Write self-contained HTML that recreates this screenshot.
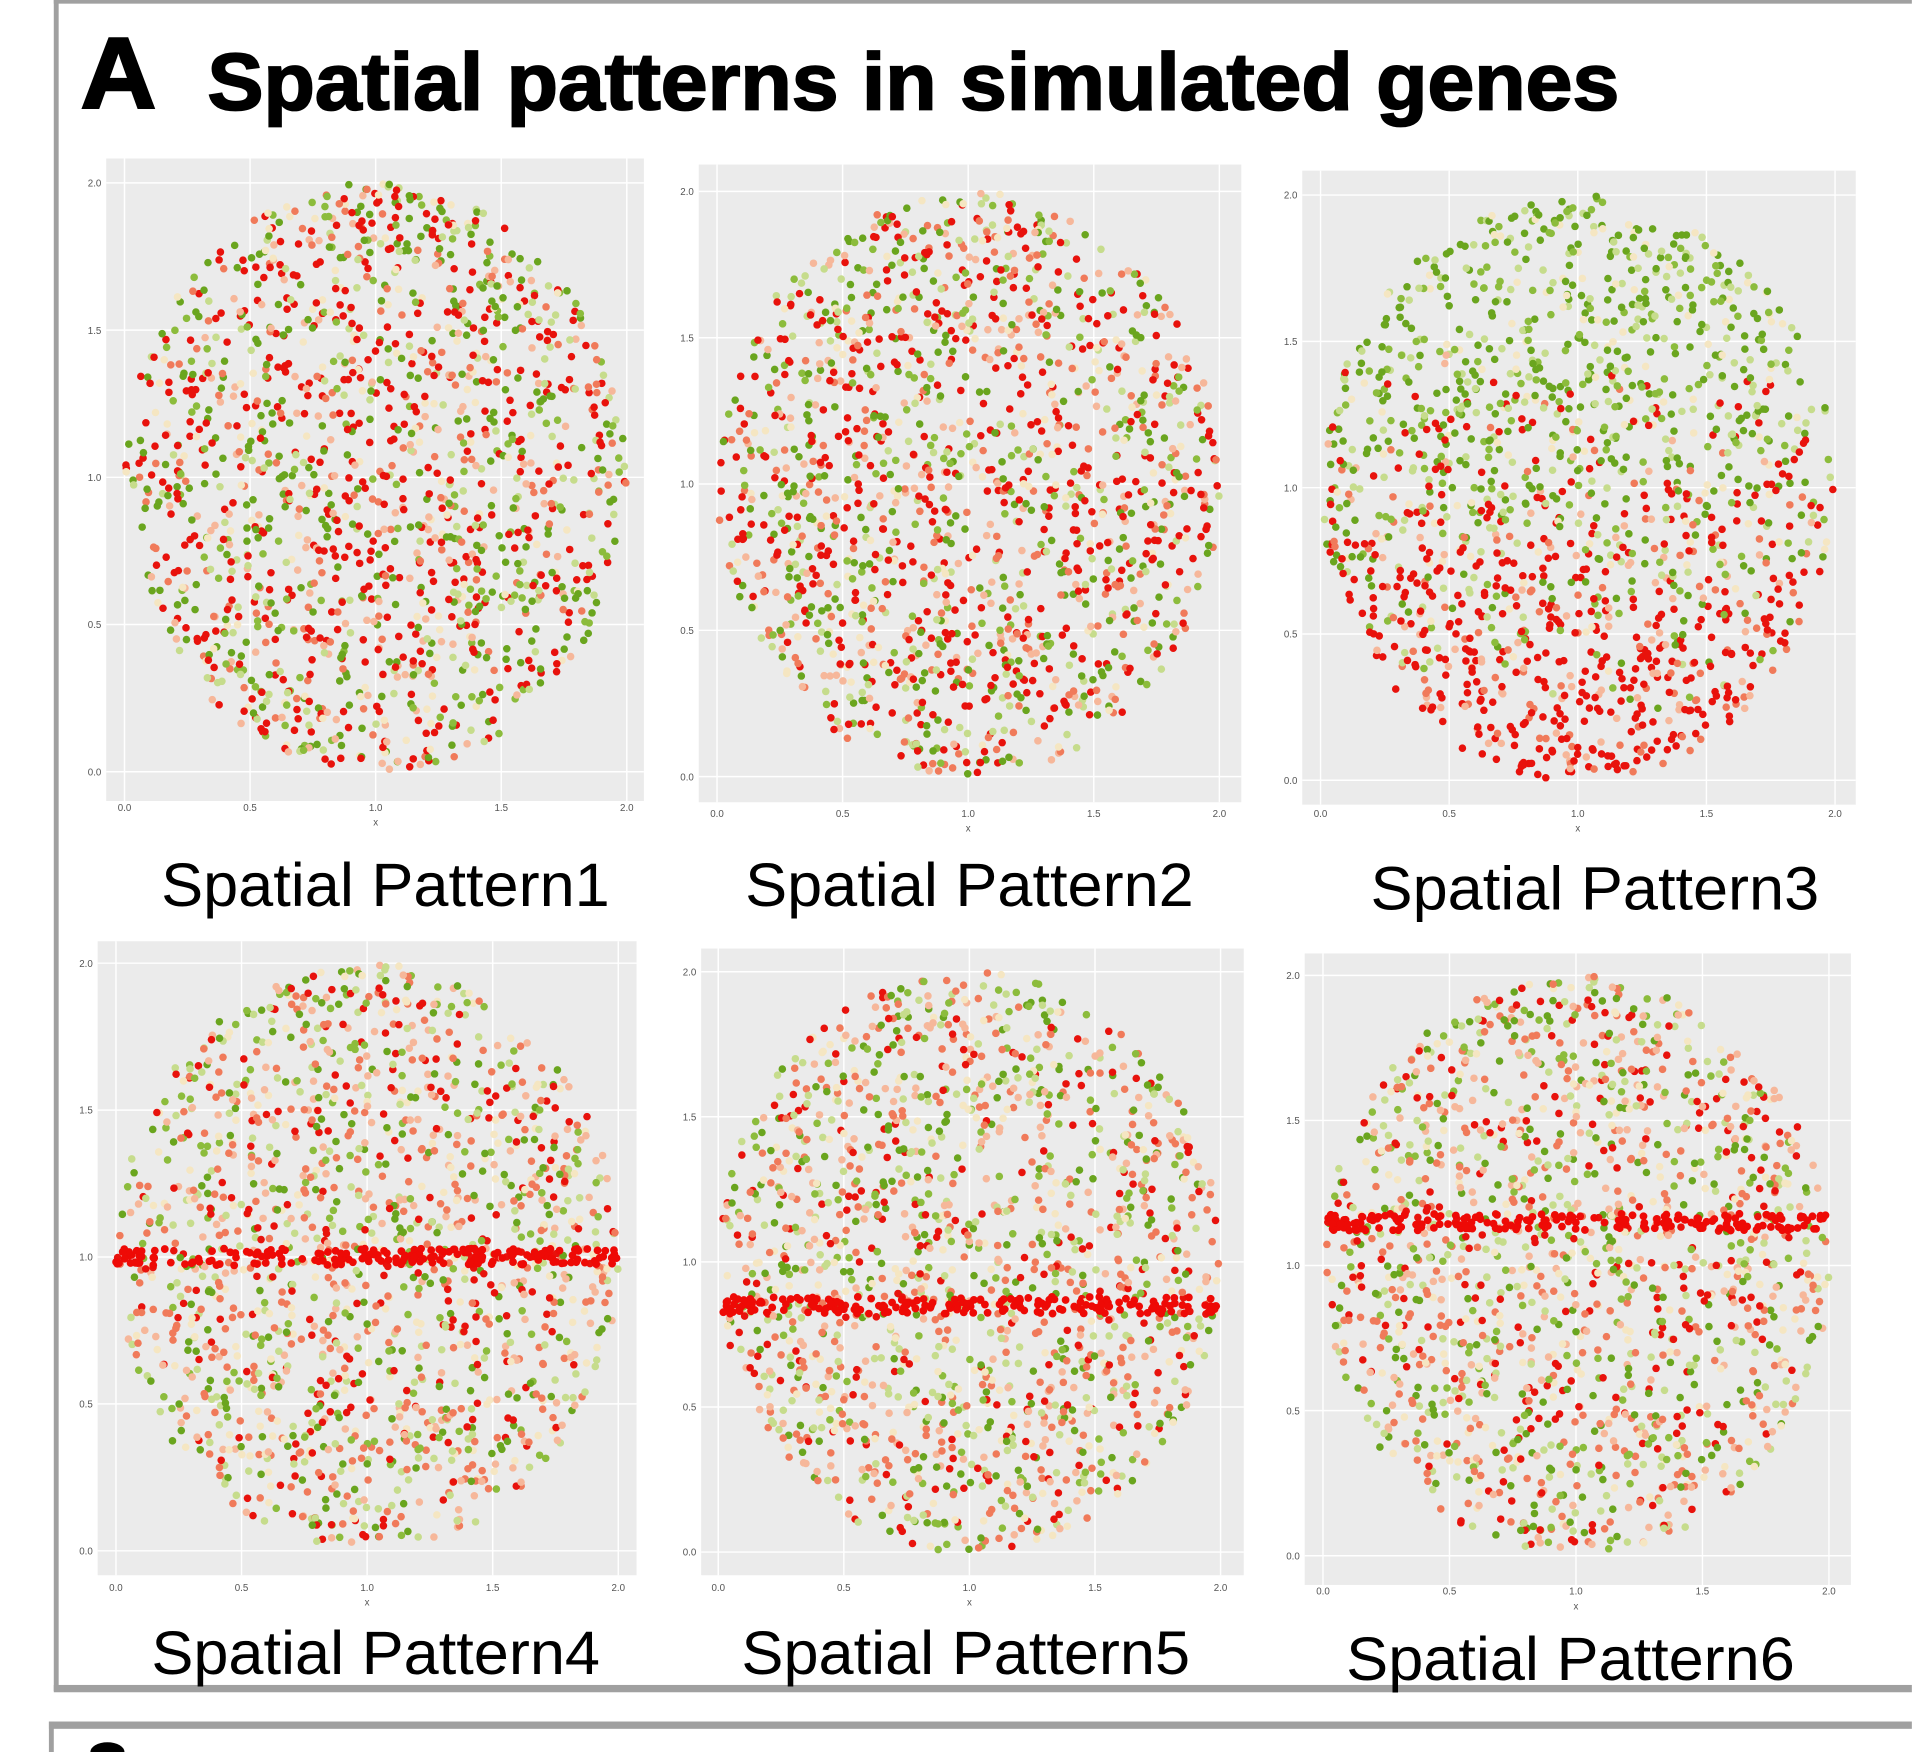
<!DOCTYPE html>
<html><head><meta charset="utf-8"><style>
html,body{margin:0;padding:0;background:#fff;}
svg{display:block}
text{font-family:"Liberation Sans",sans-serif;}
</style></head><body>
<svg id="s" width="1912" height="1752" viewBox="0 0 1568 1437" xmlns="http://www.w3.org/2000/svg">
<rect x="0" y="0" width="1568" height="1437" fill="#fff"/>
<rect x="44" y="0" width="1524" height="3" fill="#a0a0a0"/>
<rect x="44" y="0" width="4" height="1387" fill="#a0a0a0"/>
<rect x="44" y="1382" width="1524" height="6" fill="#a0a0a0"/>
<rect x="40" y="1412" width="1528" height="6" fill="#a0a0a0"/>
<rect x="40" y="1412" width="4" height="25" fill="#a0a0a0"/>
<ellipse cx="88" cy="1437" rx="14" ry="8" fill="#000"/>
<text x="66" y="88" font-size="82" font-weight="bold" fill="#000" stroke="#000" stroke-width="2" textLength="62" lengthAdjust="spacingAndGlyphs">A</text>
<text x="170" y="90" font-size="66" font-weight="bold" fill="#000" stroke="#000" stroke-width="1.5" textLength="1158" lengthAdjust="spacingAndGlyphs">Spatial patterns in simulated genes</text>
<g id="plots"></g>
<text x="316" y="743" font-size="50" text-anchor="middle" textLength="368" lengthAdjust="spacingAndGlyphs">Spatial Pattern1</text>
<text x="795" y="743" font-size="50" text-anchor="middle" textLength="368" lengthAdjust="spacingAndGlyphs">Spatial Pattern2</text>
<text x="1308" y="746" font-size="50" text-anchor="middle" textLength="368" lengthAdjust="spacingAndGlyphs">Spatial Pattern3</text>
<text x="308" y="1373" font-size="50" text-anchor="middle" textLength="368" lengthAdjust="spacingAndGlyphs">Spatial Pattern4</text>
<text x="792" y="1373" font-size="50" text-anchor="middle" textLength="368" lengthAdjust="spacingAndGlyphs">Spatial Pattern5</text>
<text x="1288" y="1378" font-size="50" text-anchor="middle" textLength="368" lengthAdjust="spacingAndGlyphs">Spatial Pattern6</text>
</svg>
<script>
(function(){
var NS="http://www.w3.org/2000/svg",g=document.getElementById("plots");
var seed=12345;function r(){seed=(seed*1103515245+12345)&0x7fffffff;return seed/0x7fffffff;}
function el(n,a,p){var e=document.createElementNS(NS,n);for(var k in a)e.setAttribute(k,a[k]);(p||g).appendChild(e);return e;}
var plots=[
{bx:87,by:130,bw:441,bh:527,y0:633,y2:150,x0:102,x2:514,xl:665,mode:0},
{bx:573,by:135,bw:445,bh:523,y0:637,y2:157,x0:588,x2:1000,xl:670,mode:0},
{bx:1068,by:140,bw:454,bh:520,y0:640,y2:160,x0:1083,x2:1505,xl:670,mode:3},
{bx:80,by:772,bw:442,bh:520,y0:1272,y2:790,x0:95,x2:507,xl:1305,mode:1,band:1.0},
{bx:575,by:778,bw:445,bh:514,y0:1273,y2:797,x0:589,x2:1001,xl:1305,mode:1,band:0.85},
{bx:1070,by:782,bw:448,bh:518,y0:1276,y2:800,x0:1085,x2:1500,xl:1308,mode:1,band:1.15}];
var C=["#e8120c","#f07a5a","#f6b79a","#f5e6c2","#c6dc8c","#8cbc3c","#6aa51e"];
function pick(w){var s=0,q=r();for(var i=0;i<w.length;i++){s+=w[i];if(q<s)return i;}return w.length-1;}
plots.forEach(function(p){
 el("rect",{x:p.bx,y:p.by,width:p.bw,height:p.bh,fill:"#ebebeb"});
 for(var i=0;i<=4;i++){
  var yy=p.y0+(p.y2-p.y0)*i/4, xx=p.x0+(p.x2-p.x0)*i/4;
  el("line",{x1:p.bx,x2:p.bx+p.bw,y1:yy,y2:yy,stroke:"#fff","stroke-width":1.2});
  el("line",{x1:xx,x2:xx,y1:p.by,y2:p.by+p.bh,stroke:"#fff","stroke-width":1.2});
  var t=el("text",{x:p.bx-4,y:yy+3,"font-size":8,"text-anchor":"end",fill:"#555"});t.textContent=(i*0.5).toFixed(1);
  var t2=el("text",{x:xx,y:p.xl,"font-size":8,"text-anchor":"middle",fill:"#555"});t2.textContent=(i*0.5).toFixed(1);
 }
 var tx=el("text",{x:(p.x0+p.x2)/2,y:p.xl+12,"font-size":8,"text-anchor":"middle",fill:"#555"});tx.textContent="x";
 var cx=(p.x0+p.x2)/2,cy=(p.y0+p.y2)/2,rx=(p.x2-p.x0)/2,ry=(p.y0-p.y2)/2;
 var n=1500;
 for(var k=0;k<n;k++){
  var u=r()*2-1,v=r()*2-1; if(u*u+v*v>1){k--;continue;}
  var yv=1+v, c;
  if(p.mode==3){
   var pr=Math.min(1,Math.max(0,(1.5-yv)/1.3));
   if(r()<pr) c=pick([0.72,0.16,0.12]); else c=3+pick([0.12,0.2,0.25,0.43]);
  } else if(p.mode==1){
   c=pick([0.14,0.2,0.14,0.12,0.14,0.1,0.16]);
  } else {
   c=pick([0.3,0.13,0.1,0.08,0.1,0.09,0.2]);
  }
  el("circle",{cx:cx+u*rx,cy:cy-v*ry,r:3.1,fill:C[c]});
 }
 if(p.mode==1){
  var by=p.y0-(p.band/2)*(p.y0-p.y2);
  for(var k=0;k<200;k++){
   var u=r()*2-1; var vv=(p.band-1);
   if(u*u+vv*vv>1)continue;
   el("circle",{cx:cx+u*rx,cy:by+(r()-0.5)*14,r:3.2,fill:"#ee0a06"});
  }
 }
});
})();
</script>
</body></html>
